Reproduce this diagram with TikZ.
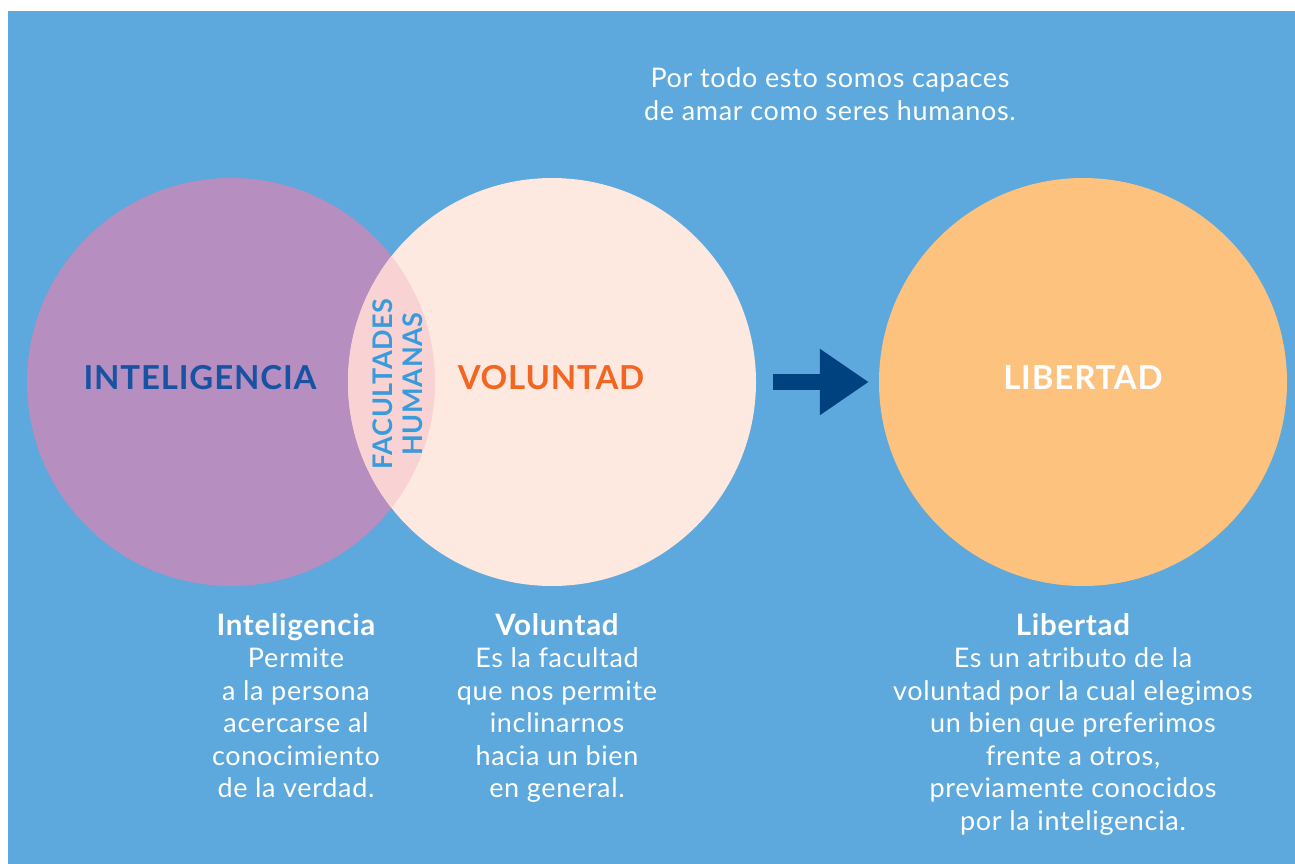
\documentclass[tikz,border=0pt]{standalone}
\usepackage{fontspec}
\setmainfont{Lato}[LetterSpace=2.5]
\usetikzlibrary{arrows.meta}
\definecolor{fondo}{HTML}{5DA8DC}
\definecolor{morado}{HTML}{B78EC0}
\definecolor{rosa}{HTML}{FDE9E0}
\definecolor{lente}{HTML}{F9D2D3}
\definecolor{naranja}{HTML}{FCC27E}
\definecolor{azulflecha}{HTML}{00427F}
\definecolor{azultexto}{HTML}{1852A3}
\definecolor{anaranjado}{HTML}{F26522}
\definecolor{celeste}{HTML}{3A9BDC}
\newcommand{\encab}[1]{{\fontsize{29.5}{32.5}\selectfont\bfseries #1}}
\tikzset{
  circulo/.style={circle, minimum size=408pt, inner sep=0pt},
  titulo/.style={font=\fontsize{33}{38}\selectfont\bfseries, anchor=base},
  texto/.style={font=\fontsize{27}{32.5}\selectfont, text=white, align=center, anchor=base},
  flecha/.style={azulflecha, line width=16pt, shorten <=17pt, shorten >=10pt,
    -{Triangle[length=49pt,width=63pt]}}
}
\begin{document}
\begin{tikzpicture}[x=1pt,y=-1pt]
  \useasboundingbox (0,0) rectangle (1295,864);
  \fill[white] (0,0) rectangle (1295,864);
  \fill[fondo] (8,11) rectangle (1295,864);
  \draw
    (231,382) node[circulo, fill=morado] (intel){}
    (552,382) node[circulo, fill=rosa] (volun){}
    (1083,382) node[circulo, fill=naranja] (liber){};
  \begin{scope}
    \clip (intel.center) circle (204pt);
    \fill[lente] (volun.center) circle (204pt);
  \end{scope}
  \draw
    (200,389) node[titulo, text=azultexto] (tintel){INTELIGENCIA}
    (551,389) node[titulo, text=anaranjado] (tvolun){VOLUNTAD}
    (1083,389) node[titulo, text=white] (tliber){LIBERTAD}
    (398,384) node[font=\fontsize{27}{30}\selectfont\bfseries, text=celeste,
      rotate=90, align=center] (facul){FACULTADES\\HUMANAS};
  \draw[flecha] (volun) -- (liber);
  \draw
    (830,120.5) node[texto] (amar){Por todo esto somos capaces\\de amar como seres humanos.}
    (296,797.5) node[texto] (dintel){\encab{Inteligencia}\\Permite\\a la persona\\acercarse al\\conocimiento\\de la verdad.}
    (557,797.5) node[texto] (dvolun){\encab{Voluntad}\\Es la facultad\\que nos permite\\inclinarnos\\hacia un bien\\en general.}
    (1073,830) node[texto] (dliber){\encab{Libertad}\\Es un atributo de la\\voluntad por la cual elegimos\\un bien que preferimos\\frente a otros,\\previamente conocidos\\por la inteligencia.};
\end{tikzpicture}
\end{document}
